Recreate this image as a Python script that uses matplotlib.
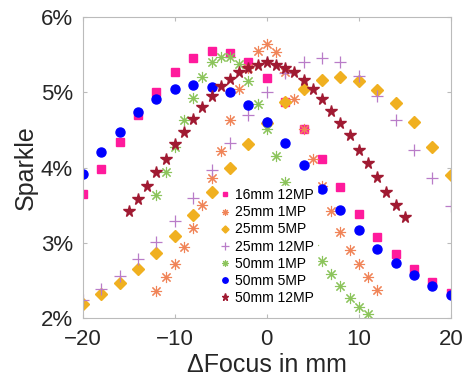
import matplotlib.pyplot as plt
from matplotlib.ticker import FuncFormatter

plt.rcParams['font.family'] = ['Liberation Sans', 'DejaVu Sans']

# focus offsets (mm)
x_even = [-20, -18, -16, -14, -12, -10, -8, -6, -4, -2, 0, 2, 4, 6, 8, 10, 12, 14, 16, 18, 20]
x_25_1mp = list(range(-12, 13))
x_50_1mp = list(range(-12, 12))
x_50_12mp = list(range(-15, 16))

# sparkle in percent
s16_12mp = [3.65, 3.98, 4.34, 4.70, 5.00, 5.27, 5.46, 5.55, 5.53, 5.41, 5.19,
            4.87, 4.51, 4.11, 3.74, 3.39, 3.08, 2.85, 2.65, 2.48, 2.33]
s25_1mp = [2.36, 2.54, 2.72, 2.95, 3.20, 3.51, 3.86, 4.22, 4.64, 5.04, 5.32, 5.55, 5.65,
           5.54, 5.27, 4.92, 4.52, 4.12, 3.76, 3.42, 3.14, 2.91, 2.72, 2.54, 2.37]
s25_5mp = [2.19, 2.32, 2.47, 2.65, 2.86, 3.09, 3.37, 3.68, 4.00, 4.31, 4.60,
           4.87, 5.05, 5.16, 5.21, 5.15, 5.03, 4.86, 4.61, 4.28, 3.90]
s25_12mp = [2.24, 2.39, 2.56, 2.78, 3.01, 3.29, 3.60, 3.97, 4.33, 4.70, 5.00,
            5.26, 5.40, 5.46, 5.40, 5.22, 4.96, 4.63, 4.24, 3.86, 3.49]
s50_1mp = [3.64, 3.94, 4.28, 4.63, 4.93, 5.21, 5.40, 5.47, 5.47, 5.38, 5.15, 4.85, 4.52,
           4.15, 3.81, 3.50, 3.22, 2.97, 2.76, 2.59, 2.42, 2.27, 2.14, 2.05]
s50_5mp = [3.92, 4.21, 4.48, 4.74, 4.92, 5.05, 5.10, 5.07, 5.00, 4.83, 4.61,
           4.33, 4.03, 3.72, 3.44, 3.17, 2.92, 2.73, 2.57, 2.43, 2.31]
s50_12mp = [3.42, 3.58, 3.76, 3.94, 4.11, 4.31, 4.47, 4.65, 4.81, 4.96, 5.08, 5.18, 5.27,
            5.33, 5.37, 5.40, 5.36, 5.32, 5.27, 5.17, 5.04, 4.92, 4.76, 4.60, 4.43, 4.24,
            4.06, 3.88, 3.68, 3.51, 3.34]

fig = plt.figure(figsize=(4.73, 3.85), dpi=100)
ax = fig.add_axes([0.175, 0.174, 0.778, 0.781])

ax.plot(x_even, s16_12mp, 's', color='#ff1a9c', ms=5.5, mec='#ff1a9c', label='16mm 12MP')
ax.plot(x_25_1mp, s25_1mp, marker=(8, 2, 0), ls='none', color='#f08458', ms=8, mew=0.8, label='25mm 1MP')
ax.plot(x_even, s25_5mp, 'D', color='#f0b020', ms=6, label='25mm 5MP')
ax.plot(x_even, s25_12mp, '+', color='#b97cc8', ms=9, mew=0.9, label='25mm 12MP')
ax.plot(x_50_1mp, s50_1mp, marker=(8, 2, 0), ls='none', color='#8cc45c', ms=8, mew=0.8, label='50mm 1MP')
ax.plot(x_even, s50_5mp, 'o', color='#0000ff', ms=6.5, label='50mm 5MP')
ax.plot(x_50_12mp, s50_12mp, '*', color='#a01a32', ms=8.5, label='50mm 12MP')

ax.set_xlim(-20, 20)
ax.set_ylim(2, 6)
ax.set_xticks([-20, -10, 0, 10, 20])
ax.set_yticks([2, 3, 4, 5, 6])
ax.yaxis.set_major_formatter(FuncFormatter(lambda v, p: '%d%%' % v))
ax.tick_params(direction='in', top=True, right=True, labelsize=16, colors='#bbbbbb',
               labelcolor='#262626', length=3)
ax.tick_params(axis='y', pad=7)
ax.tick_params(axis='x', pad=8)
for sp in ax.spines.values():
    sp.set_color('#bbbbbb')

ax.set_xlabel('\u0394Focus in mm', fontsize=18, color='#262626', labelpad=2)
ax.set_ylabel('Sparkle', fontsize=18, color='#262626', labelpad=2)

leg = ax.legend(loc='lower left', bbox_to_anchor=(0.35, 0.012), fontsize=10, frameon=True,
                fancybox=False, edgecolor='white', framealpha=1, markerscale=0.6,
                handlelength=0.6, handletextpad=0.4, labelspacing=0.22, borderpad=0.2)

fig.savefig('out.png', dpi=100)
